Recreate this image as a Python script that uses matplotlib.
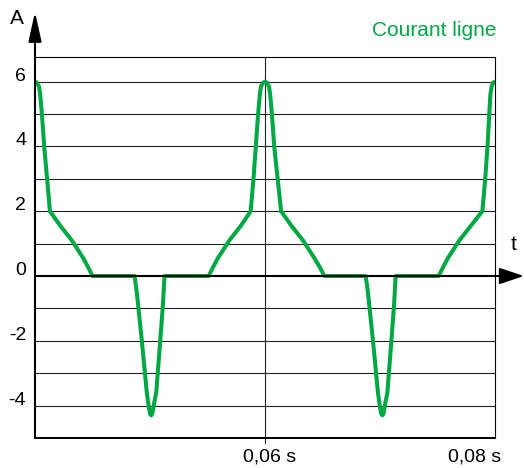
import matplotlib
matplotlib.use("Agg")
import matplotlib.pyplot as plt
from matplotlib.transforms import offset_copy

plt.rcParams['font.family'] = ['Liberation Sans', 'DejaVu Sans']

# courant ligne (t en ms, i en A)
t_ms = [40.0, 40.15, 40.35, 40.45, 40.6, 40.8, 41.05, 41.3,
        42.2, 43.2, 44.2, 44.65, 45.0,
        48.66, 48.85, 49.29, 49.72, 49.88, 50.0, 50.1, 50.2, 50.32, 50.54, 50.89, 51.12, 51.26,
        55.1, 55.45, 55.9, 56.9, 57.9,
        58.75, 59.0, 59.2, 59.4, 59.55, 59.65, 59.85, 60.0,
        60.15, 60.35, 60.45, 60.6, 60.8, 61.1, 61.4,
        62.3, 63.3, 64.3, 64.8, 65.15,
        68.76, 68.95, 69.39, 69.82, 69.98, 70.1, 70.2, 70.3, 70.42, 70.64, 70.99, 71.22, 71.36,
        75.1, 75.45, 75.9, 76.9, 77.9,
        78.9, 79.15, 79.35, 79.5, 79.6, 79.7, 79.85, 80.0]
i_A = [6.0, 5.97, 5.85, 5.6, 5.0, 4.0, 3.0, 2.0,
       1.55, 1.1, 0.55, 0.25, 0.0,
       0.0, -0.5, -2.0, -3.6, -4.0, -4.25, -4.3, -4.25, -4.0, -3.6, -2.0, -0.9, 0.0,
       0.0, 0.25, 0.55, 1.1, 1.55,
       2.0, 3.0, 4.0, 5.0, 5.6, 5.85, 5.97, 6.0,
       5.97, 5.85, 5.6, 5.0, 4.0, 3.0, 2.0,
       1.55, 1.1, 0.55, 0.25, 0.0,
       0.0, -0.5, -2.0, -3.6, -4.0, -4.25, -4.3, -4.25, -4.0, -3.6, -2.0, -0.9, 0.0,
       0.0, 0.25, 0.55, 1.1, 1.55,
       2.0, 3.0, 4.0, 5.0, 5.6, 5.85, 5.97, 6.0]
t = [v / 1000 for v in t_ms]

y_ticks = [6, 4, 2, 0, -2, -4]
x_ticks = [0.06, 0.08]
x_labels = ["0,06 s", "0,08 s"]

vert = "#00A843"

fig = plt.figure(figsize=(5.24, 4.68), dpi=100)
ax = fig.add_axes([35 / 524, 30 / 468, 460 / 524, 381 / 468])
ax.set_xlim(0.04, 0.08)
ax.set_ylim(-5, 6.76)

# grille
for y in range(-4, 7):
    if y != 0:
        ax.axhline(y, color="#222222", lw=0.8, zorder=1)
ax.axvline(0.06, ymin=-0.012, color="#222222", lw=0.8, clip_on=False, zorder=1)

ax.plot(t, i_A, color=vert, lw=2.9, solid_joinstyle="round", zorder=3)

ax.set_xticks([])
ax.set_yticks([])
for s in ["top", "right"]:
    ax.spines[s].set_linewidth(0.8)
ax.spines["bottom"].set_linewidth(1.4)
ax.spines["left"].set_visible(False)

# axes fléchés
ax.annotate("", xy=(0, 1.118), xytext=(0, 0), xycoords="axes fraction",
            arrowprops=dict(arrowstyle="-|>,head_length=1.8,head_width=0.4",
                            color="black", lw=1.5, shrinkA=0, shrinkB=0,
                            mutation_scale=10), annotation_clip=False)
ax.annotate("", xy=(1.063, 0), xytext=(0, 0),
            xycoords=("axes fraction", "data"),
            arrowprops=dict(arrowstyle="-|>,head_length=1.5,head_width=0.5",
                            color="black", lw=1.5, shrinkA=0, shrinkB=0,
                            mutation_scale=10), annotation_clip=False)

# graduations
tr = offset_copy(ax.transData, fig=fig, x=-9, y=5.5, units="dots")
for y in y_ticks:
    ax.text(0.04, y, str(y), transform=tr, ha="right", va="center", fontsize=14)
ax.text(x_ticks[0], -5, x_labels[0], ha="center", va="center", fontsize=14,
        transform=offset_copy(ax.transData, fig=fig, x=5, y=-19, units="dots"))
ax.text(x_ticks[1], -5, x_labels[1], ha="center", va="center", fontsize=14,
        transform=offset_copy(ax.transData, fig=fig, x=-20, y=-19, units="dots"))

fig.text(17 / 524, 1 - 19 / 468, "A", ha="center", va="center", fontsize=15)
fig.text(514 / 524, 1 - 245 / 468, "t", ha="center", va="center", fontsize=15)
fig.text(497 / 524, 1 - 31 / 468, "Courant ligne", ha="right", va="center",
         fontsize=15, color=vert)

fig.savefig("out.png", dpi=100)
